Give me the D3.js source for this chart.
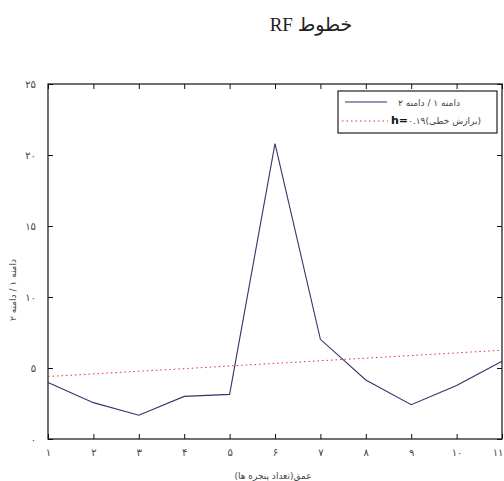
<!DOCTYPE html>
<html>
<head>
<meta charset="utf-8">
<script src="https://cdn.jsdelivr.net/npm/d3@7"></script>
<style>
  body { margin: 0; background: #fff; }
  svg { display: block; }
</style>
</head>
<body>
<div id="chart"></div>
<script>
// data
var depths = [1, 2, 3, 4, 5, 6, 7, 8, 9, 10, 11];
var ratio = [3.98, 2.56, 1.67, 3.0, 3.14, 20.8, 7.02, 4.16, 2.42, 3.77, 5.47];
var fitX = [1, 11];
var fitY = [4.4, 6.25];
var yTicks = [0, 5, 10, 15, 20, 25];
var xTicks = [1, 2, 3, 4, 5, 6, 7, 8, 9, 10, 11];

var title = "خطوط RF";
var xTitle = "عمق(تعداد پنجره ها)";
var yTitle = "دامنه ۱ / دامنه ۲";
var legendLabels = ["دامنه ۱ / دامنه ۲", "(برازش خطی)"];

chart();

function fa(n) {
  return String(n).replace(/\d/g, function(d) { return "۰۱۲۳۴۵۶۷۸۹"[+d]; });
}

function chart() {
  var width = 504;
  var height = 481;
  var left = 48, right = 502, top = 84, bottom = 439;
  var textColor = "#444";

  var svg = d3.select("#chart")
    .append("svg")
    .attr("width", width)
    .attr("height", height);

  var x = d3.scaleLinear()
    .domain([1, 11])
    .range([left, right]);

  var y = d3.scaleLinear()
    .domain([0, 25])
    .range([bottom, top]);

  // box
  svg.append("rect")
    .attr("x", left)
    .attr("y", top)
    .attr("width", right - left)
    .attr("height", bottom - top)
    .attr("fill", "none")
    .attr("stroke", "#111")
    .attr("stroke-width", 1.2);

  // bottom axis, ticks inside
  var xAxis = svg.append("g")
    .attr("transform", "translate(0," + bottom + ")")
    .call(d3.axisBottom(x).tickValues(xTicks).tickSizeInner(-5).tickSizeOuter(0).tickPadding(10).tickFormat(fa));
  xAxis.select(".domain").remove();
  xAxis.selectAll("line").attr("stroke", "#111");
  xAxis.selectAll("text").attr("fill", textColor).style("font-family", "DejaVu Sans").style("font-size", "10px");
  // last label sits against the window edge
  xAxis.selectAll("text").filter(function(d) { return d === 11; })
    .style("text-anchor", "end")
    .attr("x", 503 - right);

  var xTop = svg.append("g")
    .attr("transform", "translate(0," + top + ")")
    .call(d3.axisTop(x).tickValues(xTicks).tickSizeInner(-5).tickSizeOuter(0).tickFormat(""));
  xTop.select(".domain").remove();
  xTop.selectAll("line").attr("stroke", "#111");

  var yAxis = svg.append("g")
    .attr("transform", "translate(" + left + ",0)")
    .call(d3.axisLeft(y).tickValues(yTicks).tickSizeInner(-5).tickSizeOuter(0).tickPadding(12).tickFormat(fa));
  yAxis.select(".domain").remove();
  yAxis.selectAll("line").attr("stroke", "#111");
  yAxis.selectAll("text").attr("fill", textColor).style("font-family", "DejaVu Sans").style("font-size", "10px");

  var yRight = svg.append("g")
    .attr("transform", "translate(" + right + ",0)")
    .call(d3.axisRight(y).tickValues(yTicks).tickSizeInner(-5).tickSizeOuter(0).tickFormat(""));
  yRight.select(".domain").remove();
  yRight.selectAll("line").attr("stroke", "#111");

  // regression line
  var fit = fitX.map(function(d, i) { return [d, fitY[i]]; });
  var line = d3.line()
    .x(function(d) { return x(d[0]); })
    .y(function(d) { return y(d[1]); });

  svg.append("path")
    .datum(fit)
    .attr("d", line)
    .attr("fill", "none")
    .attr("stroke", "#e03030")
    .attr("stroke-width", 1)
    .attr("stroke-dasharray", "1.5,3");

  // data line
  var pts = depths.map(function(d, i) { return [d, ratio[i]]; });
  svg.append("path")
    .datum(pts)
    .attr("d", line)
    .attr("fill", "none")
    .attr("stroke", "#33336e")
    .attr("stroke-width", 1.1);

  // legend
  var lg = svg.append("g");
  lg.append("rect")
    .attr("x", 338)
    .attr("y", 91)
    .attr("width", 159)
    .attr("height", 42)
    .attr("fill", "#fff")
    .attr("stroke", "#222")
    .attr("stroke-width", 1.2);
  lg.append("line")
    .attr("x1", 345).attr("x2", 387)
    .attr("y1", 102).attr("y2", 102)
    .attr("stroke", "#33336e")
    .attr("stroke-width", 1.1);
  lg.append("line")
    .attr("x1", 342).attr("x2", 388)
    .attr("y1", 121).attr("y2", 121)
    .attr("stroke", "#e03030")
    .attr("stroke-dasharray", "1.5,3");
  lg.append("text")
    .attr("x", 398).attr("y", 106)
    .attr("fill", textColor)
    .style("font-family", "DejaVu Sans")
    .style("font-size", "9px")
    .text(legendLabels[0]);
  var t2 = lg.append("text")
    .attr("x", 391).attr("y", 124)
    .attr("fill", textColor)
    .style("font-family", "DejaVu Sans")
    .style("font-size", "9px");
  t2.append("tspan")
    .style("font-weight", "bold")
    .style("font-size", "11px")
    .attr("fill", "#111")
    .text("h=");
  t2.append("tspan")
    .text(fa("0.19") + legendLabels[1]);

  // titles
  svg.append("text")
    .attr("x", 311)
    .attr("y", 31)
    .attr("direction", "rtl")
    .style("text-anchor", "middle")
    .style("font-family", "Liberation Serif, DejaVu Sans")
    .style("font-size", "19px")
    .attr("fill", "#222")
    .text(title);

  svg.append("text")
    .attr("x", 273)
    .attr("y", 479)
    .style("text-anchor", "middle")
    .style("font-family", "DejaVu Sans")
    .style("font-size", "9px")
    .attr("fill", textColor)
    .text(xTitle);

  svg.append("text")
    .attr("transform", "translate(16," + 290 + ") rotate(-90)")
    .style("text-anchor", "middle")
    .style("font-family", "DejaVu Sans")
    .style("font-size", "9px")
    .attr("fill", textColor)
    .text(yTitle);
}
</script>
</body>
</html>
